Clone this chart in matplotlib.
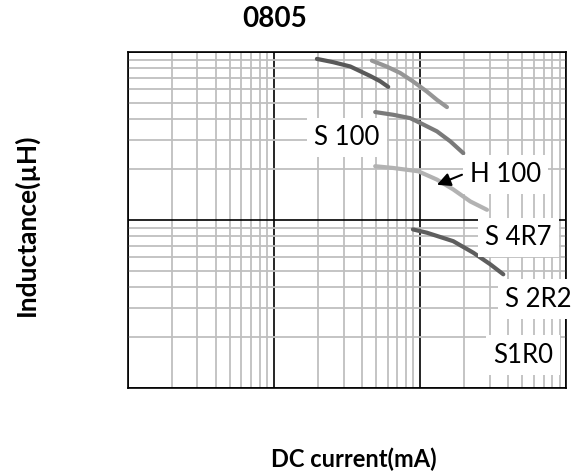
import matplotlib.pyplot as plt
from matplotlib.ticker import LogLocator, NullFormatter

plt.rcParams['font.family'] = ['Lato', 'DejaVu Sans']

# DC current (mA) vs inductance (uH), one curve per part
s100_i = [197, 254, 333, 400, 456, 533, 605]
s100_l = [9.1, 8.7, 8.2, 7.6, 7.2, 6.7, 6.2]

h100_i = [468, 593, 731, 897, 1113, 1303, 1525]
h100_l = [8.88, 8.18, 7.5, 6.67, 5.81, 5.19, 4.7]

s4r7_i = [493, 655, 855, 1002, 1303, 1607, 1972]
s4r7_l = [4.39, 4.23, 4.04, 3.78, 3.37, 2.94, 2.5]

s2r2_i = [493, 655, 971, 1303, 1684, 2202, 2864]
s2r2_l = [2.09, 2.04, 1.95, 1.74, 1.52, 1.29, 1.15]

s1r0_i = [893, 1113, 1684, 2307, 3015, 3702]
s1r0_l = [0.879, 0.84, 0.748, 0.639, 0.545, 0.475]

# part labels and where they sit (current, inductance)
labels = ['S 100', 'H 100', 'S 4R7', 'S 2R2', 'S1R0']
label_i = [317, 3820, 4690, 6420, 5070]
label_l = [3.09, 1.86, 0.787, 0.338, 0.157]

fig = plt.figure(figsize=(5.76, 4.71), dpi=100)
ax = fig.add_axes([0.2214, 0.1762, 0.762, 0.7134])
ax.set_xscale('log')
ax.set_yscale('log')
ax.set_xlim(10, 10000)
ax.set_ylim(0.1, 10)

ax.xaxis.set_minor_locator(LogLocator(base=10, subs=range(2, 10)))
ax.yaxis.set_minor_locator(LogLocator(base=10, subs=range(2, 10)))
ax.xaxis.set_minor_formatter(NullFormatter())
ax.yaxis.set_minor_formatter(NullFormatter())
ax.set_xticklabels([])
ax.set_yticklabels([])
ax.tick_params(which='both', length=0)
ax.grid(which='minor', color='#bfbfbf', linewidth=1.3)
ax.grid(which='major', color='black', linewidth=1.2)
ax.set_axisbelow(True)
for sp in ax.spines.values():
    sp.set_linewidth(1.2)

ax.plot(s100_i, s100_l, color='#595959', lw=3, solid_capstyle='round')
ax.plot(h100_i, h100_l, color='#969696', lw=3, solid_capstyle='round')
ax.plot(s4r7_i, s4r7_l, color='#7a7a7a', lw=3, solid_capstyle='round')
ax.plot(s2r2_i, s2r2_l, color='#b2b2b2', lw=3, solid_capstyle='round')
ax.plot(s1r0_i, s1r0_l, color='#5e5e5e', lw=3, solid_capstyle='round')

box = dict(boxstyle='square,pad=0.28', facecolor='white', edgecolor='none')
for name, xi, yl in zip(labels, label_i, label_l):
    ax.text(xi, yl, name, fontsize=18.5, ha='center', va='center',
            bbox=box, zorder=5, clip_on=False)

ax.annotate('', xy=(1303, 1.62), xytext=(1932, 1.86),
            arrowprops=dict(arrowstyle='-|>', color='black', lw=1.5,
                            mutation_scale=20, shrinkA=0, shrinkB=0),
            zorder=6)

fig.text(275 / 576, 1 - 19 / 471, '0805', fontsize=20, fontweight='bold',
         ha='center', va='center')
fig.text(26 / 576, 1 - 225 / 471, 'Inductance(µH)', fontsize=19,
         fontweight='bold', rotation=90, ha='center', va='center')
fig.text(354 / 576, 1 - 459 / 471, 'DC current(mA)', fontsize=17,
         fontweight='bold', ha='center', va='center')

fig.savefig('out.png', dpi=100)
